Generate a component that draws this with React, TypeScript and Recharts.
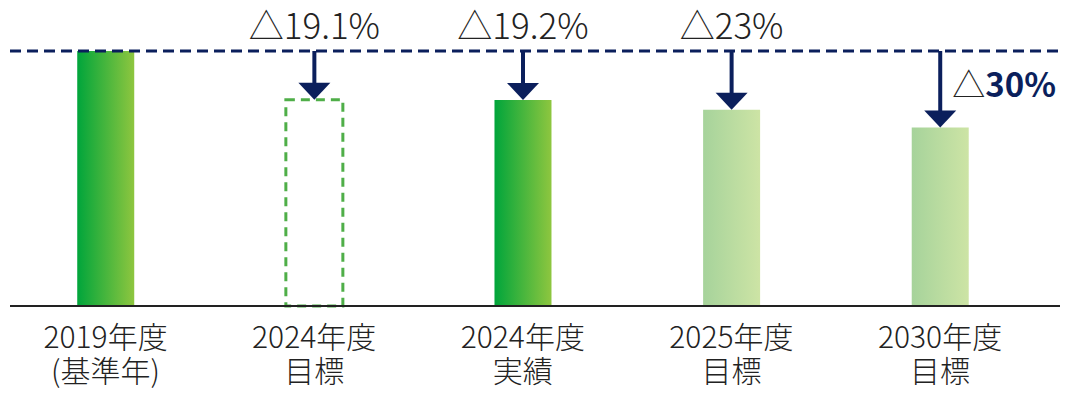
import { Bar, BarChart, Cell, LabelList, ReferenceLine, XAxis, YAxis } from 'recharts';

const YEARS = ['2019年度', '2024年度', '2024年度', '2025年度', '2030年度'];
const SUBLABELS = ['(基準年)', '目標', '実績', '目標', '目標'];
const EMISSIONS = [100, 80.9, 80.8, 77, 70];
const REDUCTIONS = ['', '△19.1%', '△19.2%', '△23%', '△30%'];
const BAR_KINDS = ['solid', 'dashed', 'solid', 'light', 'light'];

const NAVY = '#0b1f5c';
const TEXT = '#222';
const FONT = '"Noto Sans CJK JP", "Noto Sans", sans-serif';

const chartData = EMISSIONS.map((value, idx) => ({ idx, value }));

function CategoryTick({ x, y, payload }: any) {
  const i = payload.value;
  return (
    <g>
      <text x={x} y={y + 42} textAnchor="middle" fontSize={30} fontWeight={300} fill={TEXT} fontFamily={FONT}>
        {YEARS[i]}
      </text>
      <text x={x} y={y + 76} textAnchor="middle" fontSize={30} fontWeight={300} fill={TEXT} fontFamily={FONT}>
        {SUBLABELS[i]}
      </text>
    </g>
  );
}

function ReductionArrow(props: any) {
  const { x, y, width, height, index, value } = props;
  const text = REDUCTIONS[index];
  if (!text) return null;
  const cx = x + width / 2;
  // y position of the base-year level, taken from this bar's own scale
  const base = y + height - (height * 100) / Number(value);
  const head = 17;
  const isLast = index === REDUCTIONS.length - 1;
  return (
    <g>
      <line x1={cx} y1={base} x2={cx} y2={y - head + 1} stroke={NAVY} strokeWidth={4} />
      <polygon points={`${cx - 16},${y - head} ${cx + 16},${y - head} ${cx},${y}`} fill={NAVY} />
      {isLast ? (
        <text x={cx + 12} y={base + 46} fontSize={33} fontFamily={FONT}>
          <tspan fill={TEXT} fontWeight={300}>△</tspan>
          <tspan fill={NAVY} fontWeight={700}>{text.slice(1)}</tspan>
        </text>
      ) : (
        <text x={cx} y={base - 12} textAnchor="middle" fontSize={35} fontWeight={300} fill={TEXT} fontFamily={FONT}>
          {text}
        </text>
      )}
    </g>
  );
}

export default function App() {
  return (
    <div style={{ position: 'absolute', left: 0, top: 0, background: '#fff' }}>
      <BarChart
        width={1070}
        height={398}
        data={chartData}
        margin={{ top: 51, right: 10, bottom: 0, left: 10 }}
      >
        <defs>
          <linearGradient id="gradSolid" x1="0" y1="0" x2="1" y2="0">
            <stop offset="0%" stopColor="#00a53b" />
            <stop offset="100%" stopColor="#8ec63f" />
          </linearGradient>
          <linearGradient id="gradLight" x1="0" y1="0" x2="1" y2="0">
            <stop offset="0%" stopColor="#a6d39b" />
            <stop offset="100%" stopColor="#cde4a5" />
          </linearGradient>
        </defs>
        <XAxis
          type="number"
          dataKey="idx"
          domain={[-0.458, 4.575]}
          ticks={[0, 1, 2, 3, 4]}
          height={92}
          tickLine={false}
          tickSize={0}
          tickMargin={0}
          axisLine={{ stroke: '#222', strokeWidth: 2 }}
          tick={<CategoryTick />}
          allowDataOverflow
        />
        <YAxis hide domain={[0, 100]} />
        <Bar dataKey="value" barSize={57} isAnimationActive={false}>
          {chartData.map((d, i) => {
            const kind = BAR_KINDS[i];
            if (kind === 'dashed') {
              return (
                <Cell
                  key={i}
                  fill="none"
                  stroke="#4fae48"
                  strokeWidth={3}
                  strokeDasharray="9 6"
                />
              );
            }
            return <Cell key={i} fill={kind === 'solid' ? 'url(#gradSolid)' : 'url(#gradLight)'} />;
          })}
          <LabelList dataKey="value" content={<ReductionArrow />} />
        </Bar>
        <ReferenceLine y={100} stroke={NAVY} strokeWidth={3} strokeDasharray="11 6" />
      </BarChart>
    </div>
  );
}
